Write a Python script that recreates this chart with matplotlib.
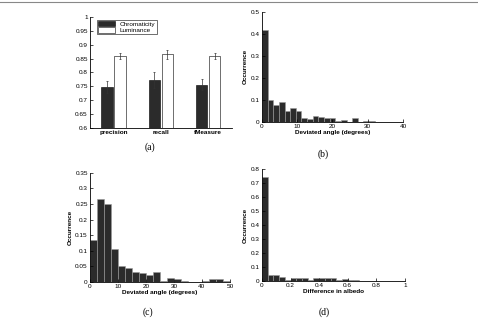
import numpy as np
import matplotlib
matplotlib.use("Agg")
import matplotlib.pyplot as plt
from matplotlib.ticker import FormatStrFormatter, FuncFormatter
from matplotlib.lines import Line2D

plt.rcParams['font.family'] = ['Liberation Sans', 'DejaVu Sans']

# (a) grouped bars
metrics = ['precision', 'recall', 'fMeasure']
chroma = [0.747, 0.773, 0.756]
chroma_err = [0.022, 0.028, 0.020]
lumin = [0.860, 0.865, 0.860]
lumin_err = [0.010, 0.015, 0.010]

# (b) deviated angle, 25 bins over 0..40
b_heights = [0.417, 0.101, 0.075, 0.089, 0.051, 0.065, 0.048, 0.020, 0.011, 0.027,
             0.024, 0.020, 0.017, 0.006, 0.008, 0.0, 0.017, 0.0, 0.004, 0.005,
             0.0, 0.0, 0.0, 0.0, 0.0]
# (c) deviated angle, 20 bins over 0..50
c_heights = [0.134, 0.267, 0.251, 0.104, 0.052, 0.044, 0.031, 0.028, 0.022, 0.033,
             0.004, 0.012, 0.009, 0.004, 0.0, 0.0, 0.003, 0.008, 0.008, 0.003]
# (d) albedo difference, 25 bins over 0..1
d_heights = [0.741, 0.040, 0.040, 0.031, 0.004, 0.019, 0.022, 0.022, 0.008, 0.022,
             0.019, 0.019, 0.019, 0.005, 0.012, 0.010, 0.005, 0.003, 0.002, 0.001,
             0.0, 0.0, 0.0, 0.0, 0.0]

dark = '#2b2b2b'
fs = 4.6
g = lambda v, p: '%g' % v

fig = plt.figure(figsize=(4.78, 3.2), dpi=100)
fig.add_artist(Line2D([0, 1], [0.995, 0.995], color='#888888', lw=0.8))


def style(ax):
    for s in ['top', 'right']:
        ax.spines[s].set_visible(False)
    for s in ['left', 'bottom']:
        ax.spines[s].set_linewidth(0.6)
    ax.tick_params(direction='in', length=2, width=0.5, labelsize=fs, pad=1.5)
    ax.xaxis.set_major_formatter(FuncFormatter(g))
    ax.yaxis.set_major_formatter(FuncFormatter(g))


# (a)
ax = fig.add_axes([0.188, 0.6, 0.297, 0.347])
x = np.arange(1, 4)
w = 0.24
ax.bar(x - 0.14, chroma, w, color=dark, edgecolor='black', lw=0.4, label='Chromaticity',
       yerr=chroma_err, error_kw=dict(lw=0.5, capsize=1, capthick=0.5, ecolor='#333333'))
ax.bar(x + 0.14, lumin, w, color='white', edgecolor='black', lw=0.4, label='Luminance',
       yerr=lumin_err, error_kw=dict(lw=0.5, capsize=1, capthick=0.5, ecolor='#333333'))
ax.set_xlim(0.5, 3.5)
ax.set_ylim(0.6, 1.0)
ax.set_yticks(np.arange(0.6, 1.001, 0.05))
style(ax)
ax.set_xticks(x)
ax.set_xticklabels(metrics, fontweight='bold')
ax.tick_params(axis='x', length=0)
ax.legend(loc='upper left', fontsize=fs, frameon=True, fancybox=False, edgecolor='black',
          borderpad=0.2, handlelength=2.6, handleheight=0.9, labelspacing=0.1,
          borderaxespad=0.4, bbox_to_anchor=(0.03, 1.0)).get_frame().set_linewidth(0.5)

# histograms
def hist(rect, heights, lo, hi, xticks, yticks, xlabel):
    ax = fig.add_axes(rect)
    edges = np.linspace(lo, hi, len(heights) + 1)
    ax.bar(edges[:-1], heights, width=edges[1] - edges[0], align='edge',
           color=dark, edgecolor='#9a9a9a', lw=0.4)
    ax.set_xlim(lo, hi)
    ax.set_ylim(yticks[0], yticks[-1])
    ax.set_xticks(xticks)
    ax.set_yticks(yticks)
    style(ax)
    ax.set_xlabel(xlabel, fontsize=fs, fontweight='bold', labelpad=0.5)
    ax.set_ylabel('Occurrence', fontsize=fs, fontweight='bold', labelpad=2)
    return ax

hist([0.548, 0.619, 0.295, 0.344], b_heights, 0, 40,
     np.arange(0, 41, 10), np.linspace(0, 0.5, 6), 'Deviated angle (degrees)')
hist([0.188, 0.119, 0.293, 0.341], c_heights, 0, 50,
     np.arange(0, 51, 10), np.linspace(0, 0.35, 8), 'Deviated angle (degrees)')
hist([0.548, 0.122, 0.299, 0.35], d_heights, 0, 1,
     np.linspace(0, 1, 6), np.linspace(0, 0.8, 9), 'Difference in albedo')

for lab, xx, yy in [('(a)', 150, 147), ('(b)', 323, 154), ('(c)', 148, 312), ('(d)', 324, 312)]:
    fig.text(xx / 478, 1 - yy / 320, lab, ha='center', va='center',
             fontsize=7, family='Liberation Serif')

fig.savefig('out.png', dpi=100)
